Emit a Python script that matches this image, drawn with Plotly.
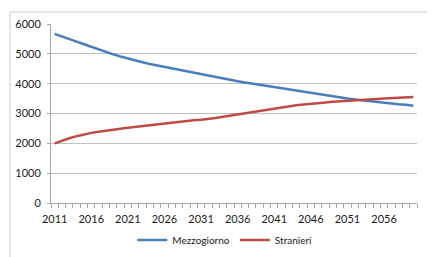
import plotly.graph_objects as go

years = list(range(2011, 2061))
mezzogiorno = [5670, 5590, 5500, 5410, 5320, 5230, 5140, 5060, 4980, 4910,
               4840, 4780, 4720, 4660, 4610, 4560, 4510, 4460, 4410, 4360,
               4310, 4260, 4210, 4170, 4130, 4080, 4040, 4000, 3960, 3920,
               3880, 3840, 3800, 3760, 3720, 3680, 3640, 3610, 3570, 3540,
               3500, 3470, 3440, 3410, 3390, 3360, 3340, 3310, 3290, 3260]
stranieri = [2000, 2090, 2170, 2240, 2300, 2350, 2390, 2430, 2460, 2490,
             2520, 2550, 2580, 2610, 2640, 2670, 2700, 2730, 2750, 2770,
             2790, 2810, 2850, 2890, 2930, 2960, 3000, 3040, 3080, 3120,
             3160, 3200, 3240, 3280, 3300, 3330, 3350, 3370, 3390, 3410,
             3430, 3445, 3460, 3475, 3490, 3500, 3510, 3520, 3535, 3550]
x_tick_labels = [str(y) for y in range(2011, 2061, 5)]
y_ticks = [0, 1000, 2000, 3000, 4000, 5000, 6000]

fig = go.Figure()
fig.add_trace(go.Scatter(x=years, y=mezzogiorno, mode="lines", name="Mezzogiorno",
                         line=dict(color="#4a7ebb", width=2.5)))
fig.add_trace(go.Scatter(x=years, y=stranieri, mode="lines", name="Stranieri",
                         line=dict(color="#be4b48", width=2.5)))

# page body adds an 8px offset; figure is sized to compensate
fig.update_layout(
    width=427, height=249,
    margin=dict(l=43, r=18, t=16, b=54, autoexpand=False),
    paper_bgcolor="white", plot_bgcolor="white",
    font=dict(family="Lato", size=11, color="#1a1a1a"),
    showlegend=True,
    legend=dict(orientation="h", x=0.475, xanchor="center", y=-0.207, yanchor="middle",
                font=dict(size=10, color="#1a1a1a"), itemwidth=30,
                bgcolor="rgba(0,0,0,0)"),
    xaxis=dict(
        automargin=False,
        range=[2010.5, 2060.5],
        tickmode="array",
        tickvals=[int(t) for t in x_tick_labels],
        ticktext=x_tick_labels,
        ticks="",
        ticklabelstandoff=6,
        showgrid=False, zeroline=False,
        showline=True, linecolor="#a6a6a6", linewidth=1,
        tickfont=dict(size=11, family="Lato", color="#1a1a1a"),
        minor=dict(ticks="outside", tick0=2010.5, dtick=1, ticklen=4,
                   tickcolor="#a6a6a6", showgrid=False),
        fixedrange=True,
    ),
    yaxis=dict(
        automargin=False,
        range=[0, 6000],
        tickmode="array", tickvals=y_ticks,
        ticks="outside", ticklen=3, tickcolor="#a6a6a6",
        ticklabelstandoff=4,
        showgrid=True, gridcolor="#c0c0c0", gridwidth=1,
        zeroline=False,
        showline=True, linecolor="#a6a6a6", linewidth=1,
        tickfont=dict(size=11, family="Lato", color="#1a1a1a"),
        fixedrange=True,
    ),
    shapes=[dict(type="rect", xref="paper", yref="paper",
                 x0=(10 - 51) / 366, x1=1.3, y0=-0.6, y1=(203 - 12) / 179,
                 line=dict(color="#cfcfcf", width=1), fillcolor="rgba(0,0,0,0)",
                 layer="below")],
)

fig.write_html("out.html")
